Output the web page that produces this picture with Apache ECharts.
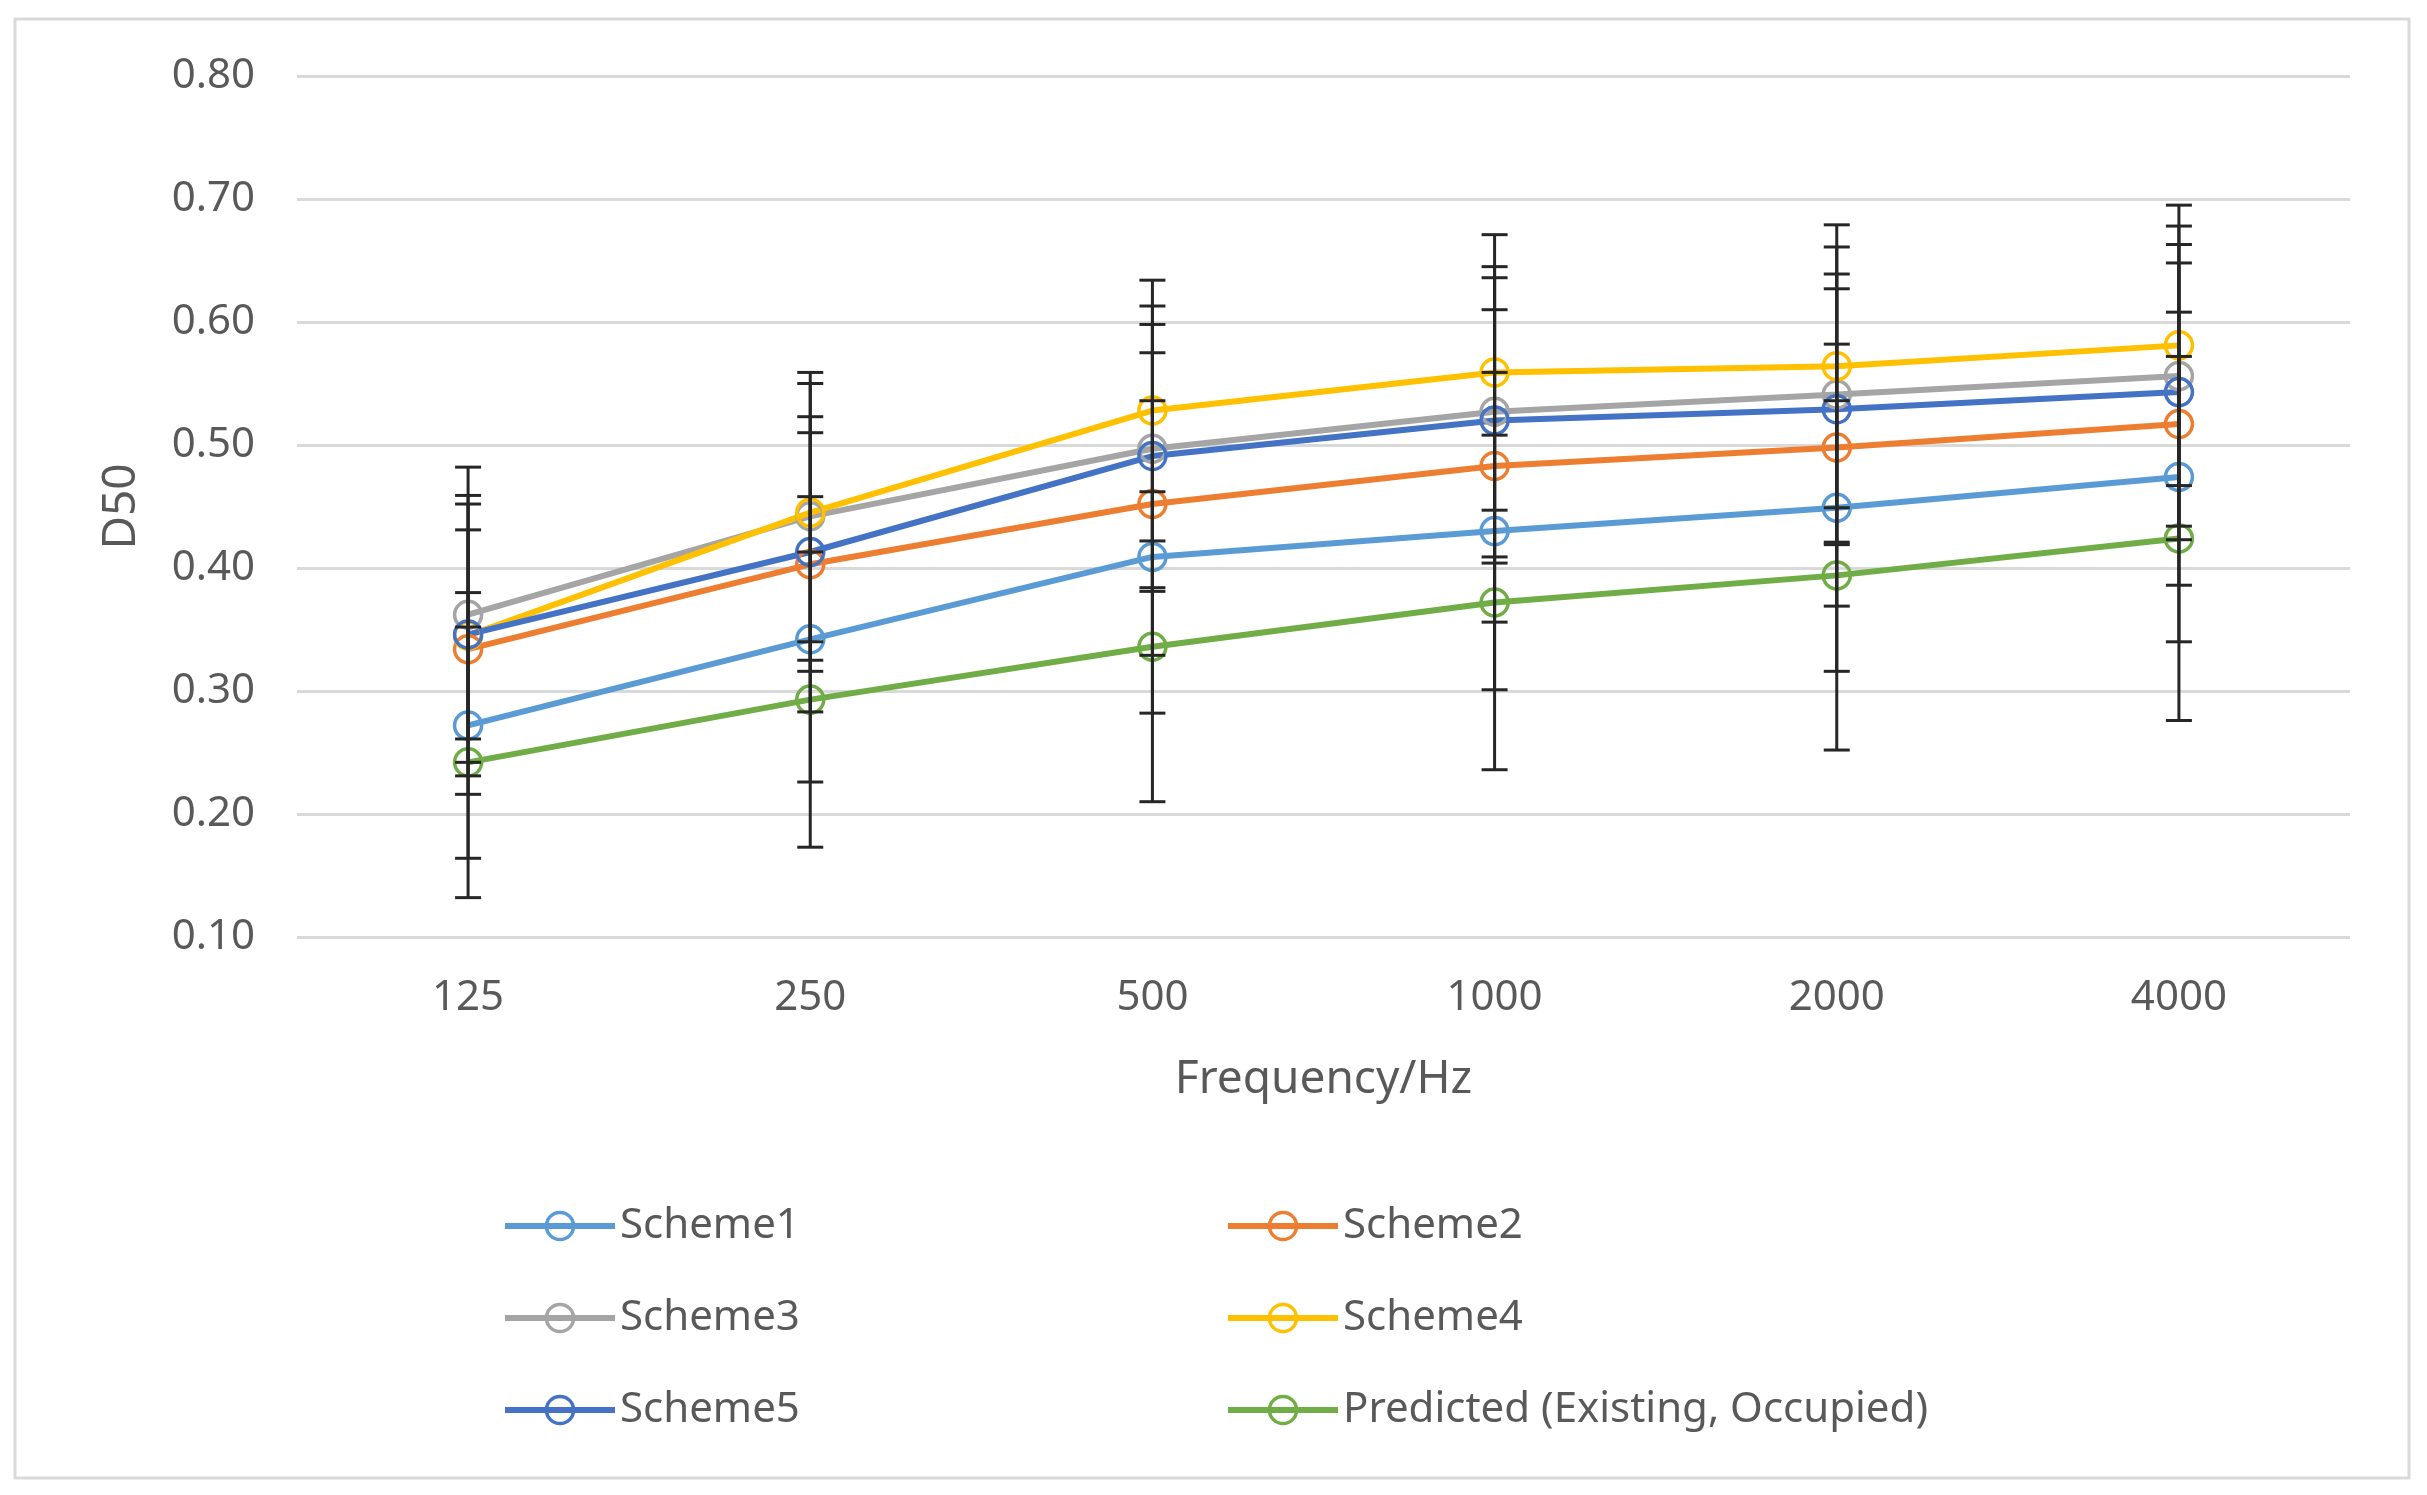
<!DOCTYPE html>
<html>
<head>
<meta charset="utf-8">
<script src="https://cdn.jsdelivr.net/npm/echarts@6/dist/echarts.min.js"></script>
<style>html,body{margin:0;padding:0;background:#fff;}#c{width:2427px;height:1495px;}</style>
</head>
<body>
<div id="c"></div>
<script>
const categories = ['125', '250', '500', '1000', '2000', '4000'];
const seriesNames = ['Scheme1', 'Scheme2', 'Scheme3', 'Scheme4', 'Scheme5', 'Predicted (Existing, Occupied)'];
const scheme1 = [0.272, 0.342, 0.409, 0.430, 0.449, 0.474];
const scheme2 = [0.334, 0.403, 0.452, 0.483, 0.498, 0.517];
const scheme3 = [0.362, 0.442, 0.497, 0.527, 0.541, 0.556];
const scheme4 = [0.345, 0.445, 0.528, 0.559, 0.564, 0.581];
const scheme5 = [0.346, 0.413, 0.491, 0.520, 0.529, 0.543];
const predicted = [0.242, 0.293, 0.336, 0.372, 0.394, 0.424];
const err1 = [0.108, 0.116, 0.127, 0.129, 0.133, 0.134];
const err2 = [0.118, 0.120, 0.123, 0.127, 0.129, 0.131];
const err3 = [0.120, 0.117, 0.116, 0.118, 0.120, 0.122];
const err4 = [0.114, 0.105, 0.106, 0.112, 0.115, 0.114];
const err5 = [0.085, 0.097, 0.107, 0.116, 0.110, 0.120];
const errP = [0.110, 0.120, 0.126, 0.136, 0.142, 0.148];
const yTicks = { min: 0.1, max: 0.8, interval: 0.1 };

const values = [scheme1, scheme2, scheme3, scheme4, scheme5, predicted];
const errors = [err1, err2, err3, err4, err5, errP];
const colors = ['#5B9BD5', '#ED7D31', '#A5A5A5', '#FFC000', '#4472C4', '#70AD47'];
const FONT = 'Noto Sans';
const TXT = '#595959';

const chart = echarts.init(document.getElementById('c'), null, { renderer: 'canvas' });

const lineSeries = values.map((vals, i) => ({
  name: seriesNames[i],
  type: 'line',
  data: vals,
  symbol: 'circle',
  symbolSize: 27,
  z: 2,
  lineStyle: { color: colors[i], width: 6 },
  itemStyle: { color: 'rgba(255,255,255,0)', borderColor: colors[i], borderWidth: 3.5 },
  emphasis: { disabled: true }
}));

function renderErr(params, api) {
  const x = api.value(0);
  const lo = api.coord([x, api.value(1)]);
  const hi = api.coord([x, api.value(2)]);
  const hw = 13;
  const style = { stroke: '#262626', lineWidth: 3 };
  return {
    type: 'group',
    children: [
      { type: 'line', shape: { x1: lo[0], y1: lo[1], x2: hi[0], y2: hi[1] }, style },
      { type: 'line', shape: { x1: lo[0] - hw, y1: lo[1], x2: lo[0] + hw, y2: lo[1] }, style },
      { type: 'line', shape: { x1: hi[0] - hw, y1: hi[1], x2: hi[0] + hw, y2: hi[1] }, style }
    ]
  };
}

const errSeries = values.map((vals, i) => ({
  name: seriesNames[i] + ' err',
  type: 'custom',
  renderItem: renderErr,
  z: 3,
  silent: true,
  encode: { x: 0, y: [1, 2] },
  data: vals.map((v, j) => [j, v - errors[i][j], v + errors[i][j]])
}));

const legendCommon = {
  orient: 'vertical',
  itemWidth: 110,
  itemHeight: 34,
  itemGap: 50,
  lineStyle: { width: 6 },
  itemStyle: { borderWidth: 3.5 },
  textStyle: { fontFamily: FONT, fontSize: 42, color: TXT, lineHeight: 40 },
  selectedMode: false
};

const option = {
  animation: false,
  backgroundColor: '#ffffff',
  graphic: [{
    type: 'rect',
    shape: { x: 15, y: 19, width: 2394, height: 1459 },
    style: { fill: 'none', stroke: '#d9d9d9', lineWidth: 3 },
    silent: true
  }],
  grid: { left: 297, right: 77, top: 76, bottom: 558 },
  legend: [
    Object.assign({ left: 497, top: 1200, data: [seriesNames[0], seriesNames[2], seriesNames[4]] }, legendCommon),
    Object.assign({ left: 1220, top: 1200, data: [seriesNames[1], seriesNames[3], seriesNames[5]] }, legendCommon)
  ],
  xAxis: {
    type: 'category',
    data: categories,
    boundaryGap: true,
    axisLine: { show: false },
    axisTick: { show: false },
    axisLabel: { fontFamily: FONT, fontSize: 42, color: TXT, margin: 40 },
    name: 'Frequency/Hz',
    nameLocation: 'middle',
    nameGap: 120,
    nameTextStyle: { fontFamily: FONT, fontSize: 46, color: TXT }
  },
  yAxis: {
    type: 'value',
    min: yTicks.min,
    max: yTicks.max,
    interval: yTicks.interval,
    axisLine: { show: false },
    axisTick: { show: false },
    axisLabel: { fontFamily: FONT, fontSize: 42, color: TXT, margin: 42, formatter: v => v.toFixed(2) },
    splitLine: { lineStyle: { color: '#d9d9d9', width: 3 } },
    name: 'D50',
    nameLocation: 'middle',
    nameRotate: 90,
    nameGap: 152,
    nameTextStyle: { fontFamily: FONT, fontSize: 46, color: TXT }
  },
  series: lineSeries.concat(errSeries)
};

chart.setOption(option);
</script>
</body>
</html>
